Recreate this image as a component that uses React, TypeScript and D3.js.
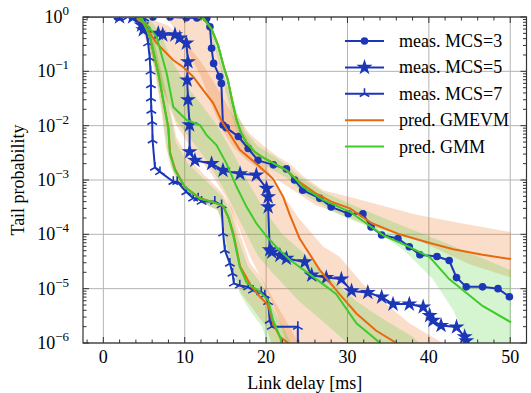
import React from 'react';
import * as d3 from 'd3';

type Pt = [number, number];

// measured tail probabilities [delay ms, prob]
const mcs3Meas: Pt[] = [
  [1.7, 1], [6.1, 1], [8.2, 1], [10.2, 0.97], [11.5, 0.96], [12.7, 0.95], [13.1, 0.66], [13.3, 0.265],
  [13.55, 0.14], [14.3, 0.08], [14.5, 0.06], [14.7, 0.0103], [15.1, 0.0092], [16.6, 0.0063],
  [17.8, 0.0038], [19.0, 0.0023], [20.9, 0.0019], [22.5, 0.0016], [23.5, 0.001], [24.5, 6.5e-4],
  [26.6, 4.6e-4], [28.0, 3.2e-4], [30.1, 2.4e-4], [31.9, 2.4e-4], [32.9, 1.37e-4], [34.2, 9.7e-5],
  [36.2, 8.4e-5], [37.6, 5.9e-5], [38.9, 4.2e-5], [41.0, 3.9e-5], [42.5, 3.3e-5], [43.4, 1.6e-5],
  [44.6, 1.08e-5], [46.6, 1.08e-5], [48.5, 1.0e-5], [49.9, 7.1e-6],
];
const mcs5Meas: Pt[] = [
  [2.0, 1], [3.6, 1], [4.7, 0.71], [4.9, 0.58], [6.75, 0.5], [7.3, 0.47], [8.8, 0.47], [9.4, 0.41],
  [10.2, 0.33], [10.4, 0.15], [10.3, 0.069], [10.4, 0.03], [10.6, 0.0103], [10.6, 0.0033],
  [11.25, 0.0023], [13.3, 0.002], [14.7, 0.0015], [16.8, 0.0013], [18.8, 0.00123], [20.05, 7.0e-4],
  [20.25, 4.9e-4], [20.25, 3.2e-4], [20.45, 5.2e-5], [20.7, 4.7e-5], [21.7, 4.1e-5], [22.5, 3.6e-5],
  [24.75, 3.1e-5], [25.6, 1.77e-5], [27.4, 1.6e-5], [29.25, 1.5e-5], [30.5, 9.1e-6], [32.5, 8.5e-6],
  [34.2, 7.0e-6], [35.6, 5.2e-6], [37.6, 5.2e-6], [39.3, 4.6e-6], [40.1, 3.2e-6], [40.5, 2.6e-6],
  [41.5, 2.1e-6], [43.4, 1.97e-6], [44.4, 1.3e-6], [44.6, 1.1e-6], [44.8, 7e-7],
];
const mcs7Meas: Pt[] = [
  [3.0, 1], [5.0, 0.95], [5.1, 0.72], [5.5, 0.33], [5.7, 0.176], [5.8, 0.1], [5.85, 0.056], [5.85, 0.032],
  [5.9, 0.019], [6.0, 0.0118], [6.05, 0.0054], [6.34, 0.0017], [6.96, 0.00141], [8.6, 0.00093],
  [9.08, 0.00093], [10.2, 6.0e-4], [11.04, 4.6e-4], [11.66, 4.6e-4], [12.07, 4.0e-4], [13.7, 4.0e-4],
  [14.53, 3.45e-4], [14.72, 1.04e-4], [14.93, 5.1e-5], [15.55, 2.9e-5], [15.88, 1.9e-5], [16.04, 1.25e-5],
  [16.77, 1.15e-5], [17.8, 1.07e-5], [18.4, 9.3e-6], [19.4, 8.7e-6], [19.84, 7.6e-6], [20.25, 5.7e-6],
  [20.45, 2.6e-6], [20.7, 2.0e-6], [23.9, 2.0e-6], [23.9, 7e-7],
];

// predictions
const mcs3Gmevm: Pt[] = [
  [-3, 1], [11.5, 1], [12.3, 0.95], [13.3, 0.6], [14.1, 0.3], [14.8, 0.12], [15.3, 0.07], [15.8, 0.03],
  [16.3, 0.014], [16.9, 0.0075], [17.6, 0.0048], [18.6, 0.0033], [19.6, 0.0026], [21.0, 0.002],
  [22.5, 0.0015], [24.0, 9.5e-4], [26.0, 5.8e-4], [28.0, 4.0e-4], [30.3, 3.0e-4], [33.0, 1.6e-4],
  [36.4, 1.0e-4], [40.0, 7.0e-5], [43.0, 5.3e-5], [46.6, 4.2e-5], [50.1, 3.5e-5],
];
const mcs3Gmm: Pt[] = [
  [-3, 1], [11.5, 1], [12.3, 0.95], [13.3, 0.6], [14.1, 0.3], [14.8, 0.12], [15.3, 0.07], [15.8, 0.03],
  [16.3, 0.014], [16.9, 0.0075], [17.6, 0.0048], [18.6, 0.0033], [19.6, 0.0026], [21.0, 0.002],
  [22.5, 0.0015], [23.5, 0.0011], [24.5, 7.5e-4], [27.0, 4.3e-4], [30.3, 2.6e-4], [34.4, 9.6e-5],
  [37.6, 5.9e-5], [40.1, 3.8e-5], [42.5, 1.5e-5], [46.6, 4.8e-6], [50.1, 2.4e-6],
];
const mcs5Gmevm: Pt[] = [
  [-3, 1], [4.0, 1], [4.9, 0.77], [6.55, 0.33], [8.6, 0.16], [9.8, 0.12], [11.04, 0.08], [12.27, 0.045],
  [13.5, 0.026], [14.6, 0.0117], [16.77, 0.0036], [18.8, 0.002], [20.86, 0.00105], [22.1, 4.9e-4],
  [22.9, 2.3e-4], [24.1, 8.5e-5], [26.6, 2.2e-5], [29.0, 8.0e-6], [31.1, 3.5e-6], [33.5, 1.7e-6],
  [36.0, 1e-6], [37, 7e-7],
];
const mcs5Gmm: Pt[] = [
  [-3, 1], [4.0, 1], [5.13, 0.78], [6.55, 0.43], [7.78, 0.092], [8.6, 0.022], [10.23, 0.0127],
  [11.87, 0.0103], [12.69, 0.0067], [13.9, 0.0044], [15.14, 0.002], [16.37, 7.5e-4], [17.6, 3.2e-4],
  [18.8, 1.6e-4], [20.05, 9.2e-5], [21.3, 5.8e-5], [22.9, 3.4e-5], [25.8, 1.65e-5], [28.6, 8e-6],
  [31.1, 2.3e-6], [33.1, 1.3e-6], [34.0, 1e-6], [35, 7e-7],
];
const mcs7Gmevm: Pt[] = [
  [-3, 1], [4.2, 1], [4.8, 0.9], [5.73, 0.43], [6.75, 0.092], [7.57, 0.02], [8.0, 0.009], [8.2, 0.0032],
  [8.8, 0.0016], [10.0, 7.5e-4], [11.9, 4.6e-4], [13.3, 4.0e-4], [14.7, 3.3e-4], [15.4, 2.0e-4],
  [16.0, 1.0e-4], [16.8, 2.6e-5], [18.2, 1.1e-5], [19.2, 7.2e-6], [20.25, 5e-6], [20.9, 2.2e-6],
  [21.7, 1.3e-6], [22.7, 1e-6], [23.5, 7e-7],
];
const mcs7Gmm: Pt[] = [
  [-3, 1], [4.2, 1], [4.7, 0.95], [5.73, 0.43], [6.75, 0.092], [7.57, 0.0194], [7.98, 0.0089],
  [8.18, 0.0031], [8.8, 0.0015], [10.02, 7.4e-4], [11.87, 4.5e-4], [13.3, 4.0e-4], [14.72, 3.4e-4],
  [15.34, 2.1e-4], [15.95, 9.7e-5], [16.77, 2.5e-5], [17.6, 1.3e-5], [19.02, 9.2e-6], [20.25, 6.2e-6],
  [20.86, 2.6e-6], [21.7, 1.3e-6], [21.9, 1e-6], [22.5, 7e-7],
];

// confidence bands: upper-right edge, then lower-left edge walking back
const mcs3GmevmBand: Pt[] = [
  [12.2, 1], [13.2, 0.6], [14.0, 0.25], [14.8, 0.09], [15.6, 0.035], [16.6, 0.014], [18, 0.007],
  [19.9, 0.004], [21.6, 0.0026], [22.9, 0.002], [24.5, 0.0012], [27, 6.5e-4], [31.1, 4.5e-4],
  [38.5, 2.3e-4], [44, 1.6e-4], [50.1, 1.1e-4],
  [50.1, 1.6e-5], [45, 2.8e-5], [38.5, 8e-5], [33, 1.4e-4], [30.3, 2.0e-4], [26, 3.5e-4], [23, 7e-4],
  [21, 0.0011], [19, 0.0016], [17.5, 0.0024], [16, 0.004], [14.7, 0.008], [13.5, 0.02], [12, 0.08],
  [10, 0.3], [8.5, 0.7], [7.5, 1],
];
const mcs3GmmBand: Pt[] = [
  [12.4, 1], [13.5, 0.6], [14.3, 0.28], [15.0, 0.11], [15.6, 0.05], [16.4, 0.018], [17.4, 0.008],
  [19, 0.0042], [21.5, 0.0024], [24, 0.0012], [27, 6e-4], [31, 3.3e-4], [36, 1.6e-4], [42, 7e-5], [50.1, 2.2e-5],
  [50.1, 7e-7], [44.8, 7e-7], [44.8, 1e-6], [43, 4e-6], [40.5, 1.5e-5], [37, 5e-5], [33, 1.3e-4],
  [29, 2.3e-4], [25, 5e-4], [22.5, 0.0011], [20, 0.0018], [18, 0.003], [16.8, 0.005], [15.8, 0.015],
  [15, 0.045], [14.2, 0.15], [13.2, 0.5], [12.2, 1],
];
const mcs5GmevmBand: Pt[] = [
  [5, 1], [8, 0.7], [10, 0.35], [12, 0.15], [14, 0.05], [16, 0.015], [18, 0.005], [20, 0.0017],
  [22, 5.5e-4], [24, 2e-4], [27, 6e-5], [29, 3.9e-5], [31.9, 1.2e-5], [35.2, 4.6e-6], [37.6, 2.3e-6],
  [41.7, 1e-6], [43, 7e-7],
  [22.5, 7e-7], [22.5, 1e-6], [21.5, 3e-6], [20, 1e-5], [18, 4e-5], [16.5, 1.5e-4], [15, 5e-4],
  [13, 1.5e-3], [11, 3.5e-3], [9, 0.01], [7, 0.06], [5.5, 0.3], [4, 1],
];
const mcs5GmmBand: Pt[] = [
  [5.5, 1], [7, 0.5], [8.5, 0.15], [10, 0.06], [12, 0.025], [14, 0.01], [16, 0.003], [18, 8e-4],
  [20, 2.5e-4], [22, 1e-4], [25, 4e-5], [28, 1.5e-5], [31, 6e-6], [34, 3e-6], [38, 1.3e-6], [40, 7e-7],
  [30, 7e-7], [30, 1e-6], [27, 2.5e-6], [24, 6e-6], [21, 1.8e-5], [19, 4e-5], [17, 1.5e-4], [15, 6e-4],
  [13, 2e-3], [11, 5e-3], [9, 0.012], [7.5, 0.04], [6, 0.2], [4.5, 1],
];
const mcs7GmevmBand: Pt[] = [
  [5.3, 1], [6.2, 0.4], [7.2, 0.09], [8.2, 0.02], [9, 0.006], [10.5, 0.0025], [12.5, 0.0012],
  [14.5, 6e-4], [15.8, 3e-4], [16.8, 1e-4], [18, 3e-5], [19.5, 1.5e-5], [21, 6e-6], [22.5, 2.5e-6],
  [24, 1e-6], [24.5, 7e-7],
  [21, 7e-7], [20, 2e-6], [18.5, 4e-6], [17, 8e-6], [16, 2e-5], [15.2, 6e-5], [14.6, 1.8e-4],
  [14, 2.8e-4], [12.5, 3.6e-4], [11, 4.8e-4], [9.5, 7e-4], [8.3, 0.0017], [7.7, 0.004], [7.1, 0.02],
  [6.3, 0.1], [5.3, 0.5], [4.5, 1],
];
const mcs7GmmBand: Pt[] = [
  [5.2, 1], [6.1, 0.4], [7.1, 0.09], [8.1, 0.02], [8.9, 0.005], [10.4, 0.002], [12.5, 0.001],
  [14.6, 5e-4], [15.7, 2.5e-4], [16.6, 8e-5], [17.8, 2.5e-5], [19.5, 1.2e-5], [21, 4e-6],
  [22.5, 1.5e-6], [23.5, 7e-7],
  [20.5, 7e-7], [19.5, 2e-6], [18, 4e-6], [16.8, 8e-6], [15.8, 2e-5], [15, 6e-5], [14.5, 1.8e-4],
  [14, 2.8e-4], [12.5, 3.6e-4], [11, 4.8e-4], [9.6, 7e-4], [8.4, 0.0017], [7.8, 0.004], [7.2, 0.02],
  [6.4, 0.1], [5.4, 0.5], [4.6, 1],
];

const xTicks = [0, 10, 20, 30, 40, 50];
const yExps = [-6, -5, -4, -3, -2, -1, 0];
const legendLabels = ['meas. MCS=3', 'meas. MCS=5', 'meas. MCS=7', 'pred. GMEVM', 'pred. GMM'];

const BLUE = '#1c36b8';
const ORANGE = '#e8680e';
const GREEN = '#3ecb2a';
const FONT = '"Liberation Serif", "Times New Roman", serif';

const W = 531, H = 393;
const L = 83, R = 526.5, T = 17, B = 343;

function Marker({ kind, cx, cy }: { kind: string; cx: number; cy: number }) {
  if (kind === 'circle') return <circle cx={cx} cy={cy} r={3.8} fill={BLUE} />;
  if (kind === 'star') {
    const p = d3.symbol().type(d3.symbolStar).size(80)();
    return <path d={p || ''} transform={`translate(${cx},${cy})`} fill={BLUE} />;
  }
  const r = 5.5;
  const d = `M0,0V${-r}M0,0L${-r * 0.87},${r * 0.5}M0,0L${r * 0.87},${r * 0.5}`;
  return <path d={d} transform={`translate(${cx},${cy})`} stroke={BLUE} strokeWidth={1.6} fill="none" />;
}

export default function App() {
  const x = d3.scaleLinear().domain([-2.5, 52]).range([L, R]);
  const y = d3.scaleLog().domain([1e-6, 1]).range([B, T]);
  const line = d3.line<Pt>().x(d => x(d[0])).y(d => y(d[1]));
  const area = (pts: Pt[]) => line(pts) + 'Z';

  const xMinor = d3.range(-2, 53, 2).filter(v => v % 10 !== 0);
  const yMinor: number[] = [];
  for (const e of yExps.slice(0, -1)) for (let k = 2; k <= 9; k++) yMinor.push(k * Math.pow(10, e));

  const meas: [Pt[], string][] = [[mcs3Meas, 'circle'], [mcs5Meas, 'star'], [mcs7Meas, 'tri']];
  const bands: [Pt[], string][] = [
    [mcs3GmevmBand, ORANGE], [mcs5GmevmBand, ORANGE], [mcs7GmevmBand, ORANGE],
    [mcs3GmmBand, GREEN], [mcs5GmmBand, GREEN], [mcs7GmmBand, GREEN],
  ];
  const preds: [Pt[], string][] = [
    [mcs3Gmevm, ORANGE], [mcs3Gmm, GREEN], [mcs5Gmevm, ORANGE], [mcs5Gmm, GREEN],
    [mcs7Gmevm, ORANGE], [mcs7Gmm, GREEN],
  ];

  return (
    <svg width={W} height={H} style={{ position: 'absolute', left: 0, top: 0 }} fontFamily={FONT}>
      <defs>
        <clipPath id="plot"><rect x={L} y={T} width={R - L} height={B - T} /></clipPath>
      </defs>
      <rect width={W} height={H} fill="#fff" />
      {/* grid */}
      <g stroke="#b4b4b4" strokeWidth={1}>
        {xTicks.map(t => <line key={t} x1={x(t)} x2={x(t)} y1={T} y2={B} />)}
        {yExps.map(e => <line key={e} x1={L} x2={R} y1={y(Math.pow(10, e))} y2={y(Math.pow(10, e))} />)}
      </g>
      <g clipPath="url(#plot)">
        {bands.map(([pts, c], i) => <path key={i} d={area(pts)} fill={c} fillOpacity={0.22} stroke="none" />)}
        {meas.map(([pts, kind], i) => (
          <g key={i}>
            <path d={line(pts) || ''} fill="none" stroke={BLUE} strokeWidth={2} strokeLinejoin="round" />
            {pts.map((p, j) => <Marker key={j} kind={kind} cx={x(p[0])} cy={y(p[1])} />)}
          </g>
        ))}
        {preds.map(([pts, c], i) => <path key={i} d={line(pts) || ''} fill="none" stroke={c} strokeWidth={2} />)}
      </g>
      {/* axes frame and ticks */}
      <rect x={L} y={T} width={R - L} height={B - T} fill="none" stroke="#333" strokeWidth={1.2} />
      <g stroke="#333" strokeWidth={1}>
        {xTicks.map(t => (
          <g key={t}>
            <line x1={x(t)} x2={x(t)} y1={B} y2={B - 6} />
            <line x1={x(t)} x2={x(t)} y1={T} y2={T + 6} />
          </g>
        ))}
        {xMinor.map(t => (
          <g key={t}>
            <line x1={x(t)} x2={x(t)} y1={B} y2={B - 3.5} />
            <line x1={x(t)} x2={x(t)} y1={T} y2={T + 3.5} />
          </g>
        ))}
        {yExps.map(e => (
          <g key={e}>
            <line x1={L} x2={L + 6} y1={y(Math.pow(10, e))} y2={y(Math.pow(10, e))} />
            <line x1={R} x2={R - 6} y1={y(Math.pow(10, e))} y2={y(Math.pow(10, e))} />
          </g>
        ))}
        {yMinor.map((v, i) => (
          <g key={i}>
            <line x1={L} x2={L + 3.5} y1={y(v)} y2={y(v)} />
            <line x1={R} x2={R - 3.5} y1={y(v)} y2={y(v)} />
          </g>
        ))}
      </g>
      <g fontSize={18} fill="#000">
        {xTicks.map(t => (
          <text key={t} x={x(t)} y={B + 20} textAnchor="middle">{t}</text>
        ))}
        {yExps.map(e => (
          <text key={e} x={69} y={y(Math.pow(10, e)) + 6} textAnchor="end">
            10<tspan dy={-8} fontSize={13}>{e < 0 ? '\u2212' + -e : e}</tspan>
          </text>
        ))}
        <text x={(L + R) / 2} y={389} textAnchor="middle">Link delay [ms]</text>
        <text transform={`translate(24,${(T + B) / 2}) rotate(-90)`} textAnchor="middle">Tail probability</text>
      </g>
      {/* legend */}
      <g>
        {legendLabels.map((lab, i) => {
          const ly = 41 + i * 26.4;
          const c = i < 3 ? BLUE : i === 3 ? ORANGE : GREEN;
          return (
            <g key={lab}>
              <line x1={345} x2={384} y1={ly} y2={ly} stroke={c} strokeWidth={2} />
              {i < 3 && <Marker kind={meas[i][1]} cx={364.5} cy={ly} />}
              <text x={399} y={ly + 6} fontSize={18}>{lab}</text>
            </g>
          );
        })}
      </g>
    </svg>
  );
}
